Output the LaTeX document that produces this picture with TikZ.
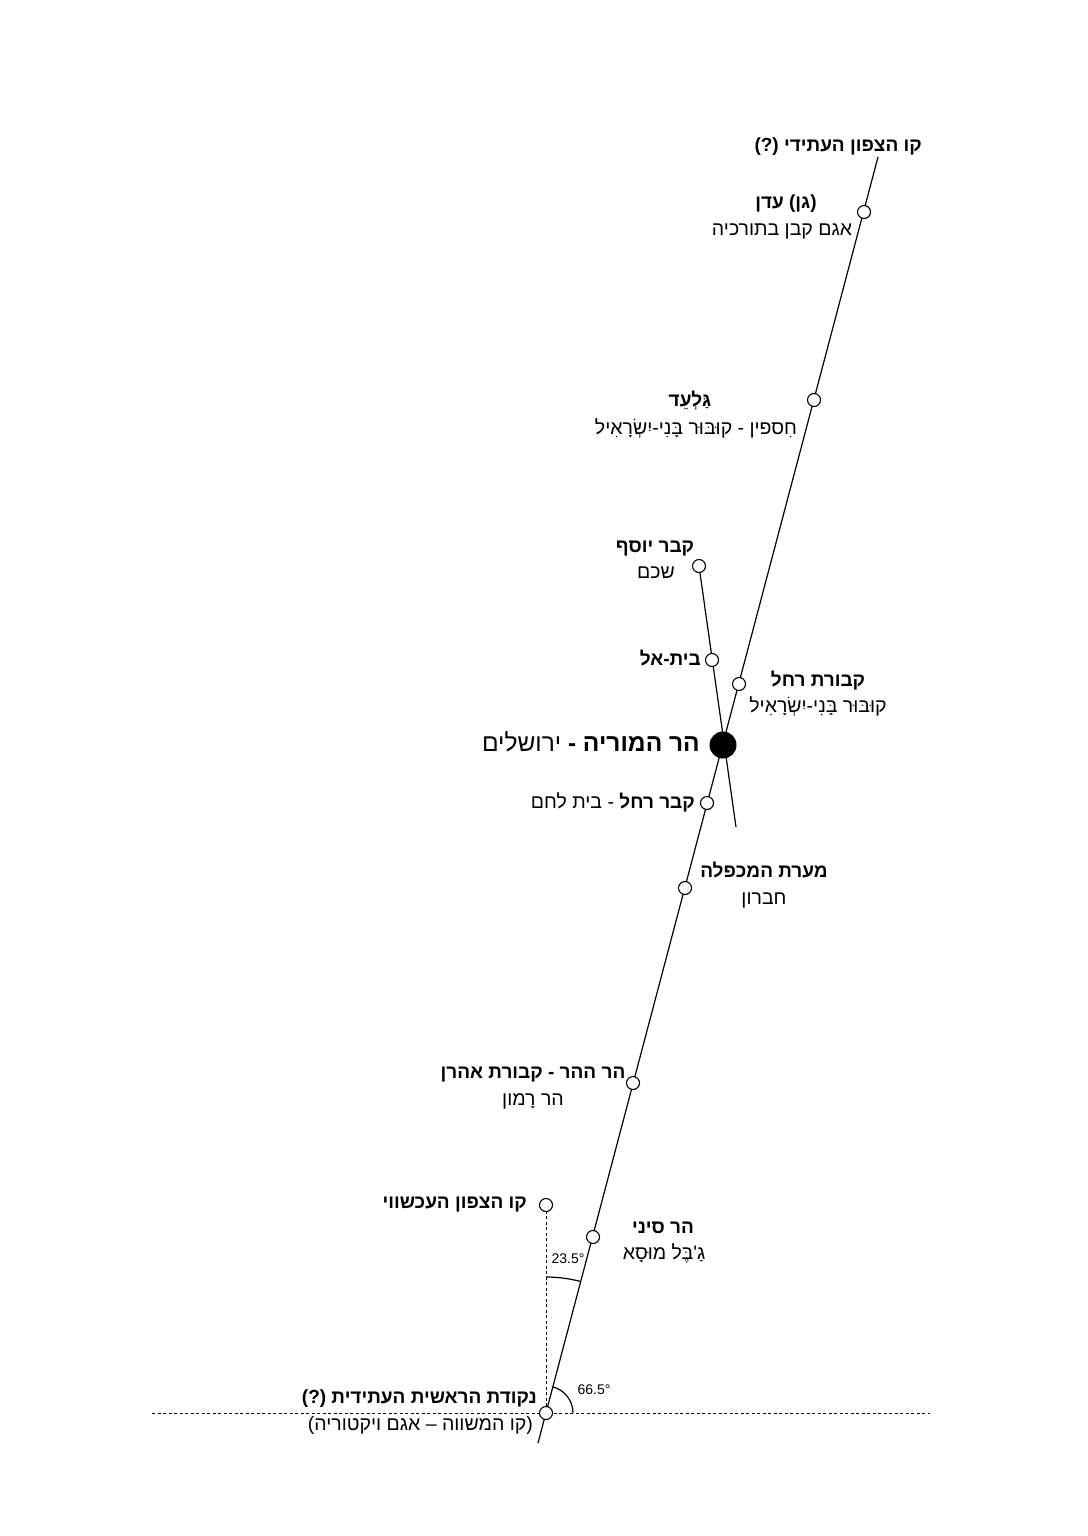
\documentclass[tikz,border=0pt]{standalone}
\usepackage{fontspec}
\newfontfamily\heb[Script=Hebrew]{Liberation Sans}
\newfontfamily\degf{Liberation Sans}
\TeXXeTstate=1
\tikzset{
  pt/.style={circle,draw,fill=white,inner sep=0pt,minimum size=13pt,line width=1.1pt},
  bigdot/.style={circle,fill=black,inner sep=0pt,minimum size=27pt},
  mainline/.style={line width=1.2pt},
  dotline/.style={line width=0.9pt,dash pattern=on 3pt off 2.5pt},
  lbl/.style={inner sep=0pt,text height=11pt,text depth=0pt,font=\heb\fontsize{19.5}{22}\selectfont},
  lblb/.style={lbl,font=\heb\bfseries\fontsize{19}{22}\selectfont},
  biglbl/.style={inner sep=0pt,text height=13pt,text depth=0pt,font=\heb\fontsize{24.5}{28}\selectfont},
  deg/.style={inner sep=0pt,font=\degf\fontsize{14}{16}\selectfont},
}
\begin{document}
\begin{tikzpicture}[x=1pt,y=-1pt]
\useasboundingbox[fill=white] (0,0) rectangle (1087,1536);
% coordinates
\coordinate (T) at (878,157);
\coordinate (Bt) at (538,1443);
\coordinate (J2end) at (736,827);
\coordinate (HL) at (152,1413);
\coordinate (HR) at (930,1413);
\coordinate (O) at (546,1413);
% lines
\draw[mainline] (T) -- (Bt);
\draw[mainline] (699,566) coordinate (Jc) -- (J2end);
\draw[dotline] (HL) -- (HR);
\draw[dotline] (546,1205) coordinate (Nc) -- (O);
% arcs (y axis points down, so angles are negated)
\draw[line width=1.2pt] (O) ++(-90:136) arc[start angle=-90,end angle=-75.2,radius=136];
\draw[line width=1.2pt] (O) ++(0:27) arc[start angle=0,end angle=-75.2,radius=27];
% points on the main line
\node[pt] (eden) at (864,212) {};
\node[pt] (gil) at (814,400) {};
\node[pt] (rach) at (739,684) {};
\node[bigdot] (mor) at (723,745) {};
\node[pt] (beth) at (707,803) {};
\node[pt] (mach) at (685,888) {};
\node[pt] (hor) at (633,1083) {};
\node[pt] (sin) at (593,1237) {};
\node[pt] (orig) at (O) {};
% second line
\node[pt] (jos) at (Jc) {};
\node[pt] (betel) at (712,660) {};
% current north
\node[pt] (north) at (Nc) {};
% labels
\node[lblb,anchor=east] (t1) at (922,146) {\beginR קו הצפון העתידי (?)\endR};
\node[lblb] (eden1) at (786,203) {\beginR (גן) עדן\endR};
\node[lbl] (eden2) at (782,230) {\beginR אגם קבן בתורכיה\endR};
\node[lblb] (gil1) at (690,401) {\beginR גַּלְעֵד\endR};
\node[lbl] (gil2) at (696,429) {\beginR חִספין - קוּבּוּר בָּנִי-יִשְׂרָאִיל\endR};
\node[lblb] (jos1) at (655,547) {\beginR קבר יוסף\endR};
\node[lbl] (jos2) at (656,573) {\beginR שכם\endR};
\node[lblb,anchor=east] (bet1) at (701,660) {\beginR בית-אל\endR};
\node[lblb] (rach1) at (818,681) {\beginR קבורת רחל\endR};
\node[lbl] (rach2) at (818,707) {\beginR קוּבּוּר בָּנִי-יִשְׂרָאִיל\endR};
\node[biglbl,anchor=east] (mor1) at (700,745) {\beginR{\bfseries הר המוריה -} ירושלים\endR};
\node[lbl,anchor=east] (beth1) at (695,803) {\beginR{\bfseries\fontsize{19}{22}\selectfont קבר רחל} - בית לחם\endR};
\node[lblb] (mach1) at (764,872) {\beginR מערת המכפלה\endR};
\node[lbl] (mach2) at (764,899) {\beginR חברון\endR};
\node[lblb] (hor1) at (533,1073) {\beginR הר ההר - קבורת אהרן\endR};
\node[lbl] (hor2) at (533,1100) {\beginR הר רָמון\endR};
\node[lblb,anchor=east] (north1) at (527,1203) {\beginR קו הצפון העכשווי\endR};
\node[lblb] (sin1) at (663,1228) {\beginR הר סיני\endR};
\node[lbl] (sin2) at (664,1254) {\beginR גַ'בֶּל מוּסָא\endR};
\node[deg] (a1) at (568,1259) {23.5°};
\node[deg] (a2) at (594,1390) {66.5°};
\node[lblb,anchor=east] (or1) at (537,1398) {\beginR נקודת הראשית העתידית (?)\endR};
\node[lbl,anchor=east] (or2) at (533,1425) {\beginR (קו המשווה – אגם ויקטוריה)\endR};
\end{tikzpicture}
\end{document}
